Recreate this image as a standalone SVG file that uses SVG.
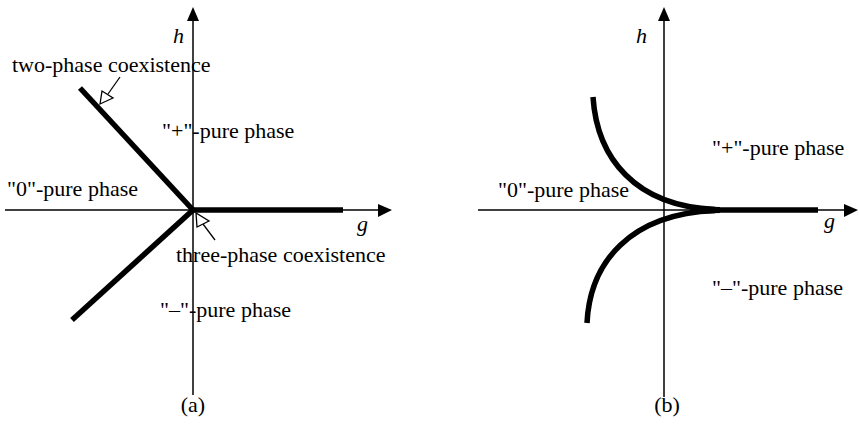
<svg xmlns="http://www.w3.org/2000/svg" width="859" height="444" viewBox="0 0 859 444">
<defs>
<style>
text{font-family:'Liberation Serif','DejaVu Serif',serif;font-size:22px;fill:#000}
.it{font-style:italic}
.axis{stroke:#000;stroke-width:1.5;fill:none}
.thick{stroke:#000;stroke-width:5.5;fill:none;stroke-linecap:butt}
.ptr{stroke:#000;stroke-width:1.3;fill:none}
.head{fill:#fff;stroke:#000;stroke-width:1.3}
.ah{fill:#000}
</style>
</defs>
<rect width="859" height="444" fill="#fff"/>
<g id="panel-a">
<g id="axes-a">
<line class="axis" x1="193" y1="18" x2="193" y2="395"/>
<polygon class="ah" points="193,7 187,21 199,21"/>
<line class="axis" x1="5" y1="210" x2="380" y2="210"/>
<polygon class="ah" points="392,210 378,204 378,217"/>
</g>
<g id="lines-a">
<line class="thick" x1="80" y1="88" x2="193" y2="210"/>
<line class="thick" x1="193" y1="210" x2="72" y2="320"/>
<line class="thick" x1="193" y1="210" x2="343" y2="210"/>
</g>
<g id="pointers-a">
<line class="ptr" x1="120" y1="77" x2="108" y2="94"/>
<polygon class="head" points="100,104 102,91 113,98"/>
<line class="ptr" x1="215" y1="240" x2="203" y2="224"/>
<polygon class="head" points="196,213 197,227 209,221"/>
</g>
<g id="labels-a" font-family="Liberation Serif, serif">
<text class="it" x="173" y="43">h</text>
<text x="12" y="72">two-phase coexistence</text>
<text x="162" y="138">"+"-pure phase</text>
<text x="7" y="196">"0"-pure phase</text>
<text class="it" x="357" y="231">g</text>
<text x="176" y="262">three-phase coexistence</text>
<text x="160" y="317">"–"-pure phase</text>
<text x="193" y="412" text-anchor="middle">(a)</text>
</g>
</g>
<g id="panel-b">
<g id="axes-b">
<line class="axis" x1="664" y1="18" x2="664" y2="397"/>
<polygon class="ah" points="664,7 658,21 670,21"/>
<line class="axis" x1="478" y1="210" x2="846" y2="210"/>
<polygon class="ah" points="858,210 844,204 844,217"/>
</g>
<g id="curves-b">
<path class="thick" d="M593,97 C597,158 635,206 715,209.5"/>
<path class="thick" d="M587,323 C590,262 630,214 715,210.5"/>
<path d="M690,206 L720,207 L720,213 L690,214 Z" fill="#000"/>
<line class="thick" x1="700" y1="210" x2="818" y2="210"/>
</g>
<g id="labels-b" font-family="Liberation Serif, serif">
<text class="it" x="636" y="43">h</text>
<text x="712" y="155">"+"-pure phase</text>
<text x="498" y="197">"0"-pure phase</text>
<text class="it" x="824" y="228">g</text>
<text x="712" y="295">"–"-pure phase</text>
<text x="667" y="412" text-anchor="middle">(b)</text>
</g>
</g>
</svg>
